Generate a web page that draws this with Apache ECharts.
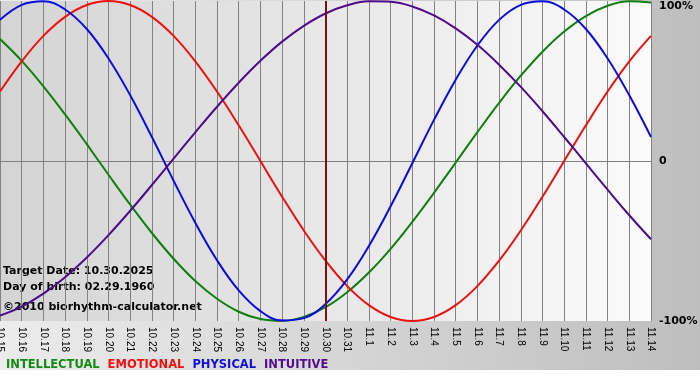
<!DOCTYPE html>
<html>
<head>
<meta charset="utf-8">
<script src="https://cdn.jsdelivr.net/npm/echarts@6/dist/echarts.min.js"></script>
<style>
  html, body { margin: 0; padding: 0; background: #fff; }
  #bioContainer { width: 700px; height: 380px; }
</style>
</head>
<body>
<div id="bioContainer"></div>
<script>
// days shown on the x axis
var days = ['10.15','10.16','10.17','10.18','10.19','10.20','10.21','10.22','10.23','10.24',
    '10.25','10.26','10.27','10.28','10.29','10.30','10.31','11.1','11.2','11.3',
    '11.4','11.5','11.6','11.7','11.8','11.9','11.10','11.11','11.12','11.13','11.14'];

// cycle values in percent, one per day
var intellectual = [76.2,62.6,46.7,29.1,10.5,-8.6,-27.3,-45.0,-61.1,-75.0,-86.1,-94.2,-98.8,-99.9,-97.4,-91.4,
    -82.0,-69.7,-54.9,-38.0,-19.9,-1.0,18.0,36.3,53.3,68.3,80.9,90.6,97.0,99.8,99.1];
var emotional = [43.4,62.3,78.2,90.1,97.5,100,97.5,90.1,78.2,62.3,43.4,22.3,0,-22.3,-43.4,-62.3,
    -78.2,-90.1,-97.5,-100,-97.5,-90.1,-78.2,-62.3,-43.4,-22.3,0,22.3,43.4,62.3,78.2];
var physical = [88.2,97.6,99.9,94.7,82.5,64.1,41.1,15.0,-12.3,-38.6,-62.0,-80.9,-93.8,-99.7,-98.2,-89.4,
    -74.0,-53.1,-28.3,-1.4,25.7,50.8,72.2,88.2,97.6,99.9,94.7,82.5,64.1,41.1,15.0];
var intuitive = [-96.6,-91.0,-82.9,-72.6,-60.3,-46.3,-31.1,-15.0,1.5,17.9,33.9,48.9,62.6,74.6,84.5,92.2,
    97.3,99.8,99.5,96.6,91.0,82.9,72.6,60.2,46.3,31.1,15.0,-1.5,-17.9,-33.9,-48.9];

var yTicks = [-100, 0, 100];
var yTickLabels = ['-100%', '0', '100%'];
var targetDay = '10.30';
var infoLines = ['Target Date: 10.30.2025', 'Day of birth: 02.29.1960', '\u00a92010 biorhythm-calculator.net'];

var dom = document.getElementById('bioContainer');
var myChart = echarts.init(dom);
var option = null;

function cycle(name, data, color) {
    return {
        name: name,
        type: 'line',
        data: data,
        smooth: 0.4,
        showSymbol: false,
        silent: true,
        lineStyle: { color: color, width: 2 },
        itemStyle: { color: color }
    };
}

var series = [
    cycle('INTELLECTUAL', intellectual, '#0f7f0f'),
    cycle('EMOTIONAL', emotional, '#ec1111'),
    cycle('PHYSICAL', physical, '#0c0cdc'),
    cycle('INTUITIVE', intuitive, '#4e0c88')
];
// today's marker
series[0].markLine = {
    silent: true,
    symbol: 'none',
    label: { show: false },
    lineStyle: { color: '#7d1212', width: 2, type: 'solid' },
    data: [{ xAxis: targetDay }]
};

option = {
    animation: false,
    backgroundColor: new echarts.graphic.LinearGradient(0, 0, 1, 0, [
        { offset: 0, color: '#ececec' },
        { offset: 1, color: '#bebebe' }
    ]),
    textStyle: { fontFamily: 'DejaVu Sans' },
    grid: {
        left: 0, right: 49, top: 1, bottom: 59,
        outerBoundsMode: 'none',
        containLabel: false,
        show: true,
        borderWidth: 0,
        backgroundColor: new echarts.graphic.LinearGradient(0, 0, 1, 0, [
            { offset: 0, color: '#d4d4d4' },
            { offset: 1, color: '#fbfbfb' }
        ])
    },
    legend: {
        left: -4,
        top: 354,
        icon: 'none',
        itemWidth: 0,
        itemHeight: 0,
        itemGap: 3,
        selectedMode: false,
        textStyle: { fontFamily: 'DejaVu Sans', fontSize: 11.5, fontWeight: 'bold' },
        data: [
            { name: 'INTELLECTUAL', textStyle: { color: '#138a13' } },
            { name: 'EMOTIONAL', textStyle: { color: '#f01212' } },
            { name: 'PHYSICAL', textStyle: { color: '#1010d8' } },
            { name: 'INTUITIVE', textStyle: { color: '#520c8c' } }
        ]
    },
    xAxis: {
        type: 'category',
        data: days,
        boundaryGap: false,
        axisLine: { lineStyle: { color: '#808080', width: 1 } },
        axisTick: { show: true, interval: 0, length: 4, lineStyle: { color: '#808080' } },
        axisLabel: {
            interval: 0,
            rotate: -90,
            margin: 6,
            hideOverlap: false,
            color: '#000',
            fontFamily: 'Liberation Sans',
            fontSize: 10
        },
        splitLine: { show: true, interval: 0, lineStyle: { color: '#828282', width: 1 } }
    },
    yAxis: {
        type: 'value',
        position: 'right',
        min: -100,
        max: 100,
        interval: 100,
        axisLine: { show: false },
        axisTick: { show: false },
        axisLabel: {
            margin: 8,
            color: '#000',
            fontFamily: 'DejaVu Sans',
            fontSize: 11,
            fontWeight: 'bold',
            formatter: function (v) {
                var label = yTickLabels[yTicks.indexOf(v)];
                return v === 100 ? '{top|' + label + '}' : label;
            },
            rich: {
                top: { fontFamily: 'DejaVu Sans', fontSize: 11, fontWeight: 'bold', color: '#000', padding: [11, 0, 0, 0] }
            }
        },
        splitLine: { show: true, lineStyle: { color: ['rgba(0,0,0,0)', '#828282', 'rgba(0,0,0,0)'], width: 1 } }
    },
    graphic: [
        { type: 'rect', left: 0, top: 370, shape: { width: 700, height: 10 }, style: { fill: '#ffffff' }, silent: true },
        { type: 'text', x: 3, y: 271, style: { text: infoLines[0], font: 'bold 11px "DejaVu Sans"', fill: '#000', verticalAlign: 'middle' }, silent: true },
        { type: 'text', x: 3, y: 287, style: { text: infoLines[1], font: 'bold 11px "DejaVu Sans"', fill: '#000', verticalAlign: 'middle' }, silent: true },
        { type: 'text', x: 3, y: 307, style: { text: infoLines[2], font: 'bold 11px "DejaVu Sans"', fill: '#000', verticalAlign: 'middle' }, silent: true }
    ],
    series: series
};

if (option && typeof option === 'object') {
    myChart.setOption(option, true);
}
</script>
</body>
</html>
